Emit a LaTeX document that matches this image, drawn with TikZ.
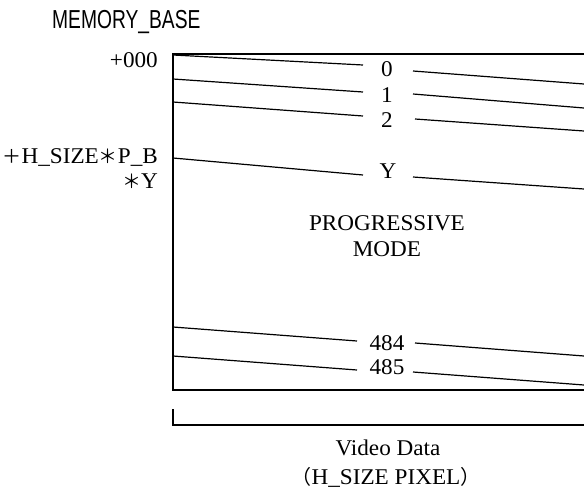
\documentclass[tikz,border=0pt]{standalone}
\usepackage{fontspec}
\setmainfont{Liberation Serif}[FakeStretch=1.03]
\newfontfamily\membase{Liberation Sans}[FakeStretch=0.74]
\newfontfamily\cjk{Noto Sans CJK JP}
\begin{document}
\begin{tikzpicture}[x=1pt,y=-1pt,
  edge/.style={line width=1.3pt},
  row/.style={line width=1.2pt},
  lbl/.style={inner sep=0pt,anchor=base,font=\fontsize{22.5}{24}\selectfont},
  lbr/.style={inner sep=0pt,anchor=base east,font=\fontsize{22.5}{24}\selectfont}]
\useasboundingbox (0,0) rectangle (584,490);
% title
\node[inner sep=0pt,anchor=base west,font=\membase\fontsize{26}{27}\selectfont] (mb) at (52,28) {MEMORY\_BASE};
% left labels
\node[lbr] (a0) at (158,67) {+000};
\node[lbr] (ay) at (158,163) {{\cjk\fontsize{19}{20}\selectfont ＋}H\_SIZE{\cjk\fontsize{19}{20}\selectfont ＊}P\_B};
\node[lbr] (ay2) at (158,188) {{\cjk\fontsize{19}{20}\selectfont ＊}Y};
% box
\coordinate (tl) at (173,54);
\coordinate (tr) at (584,54);
\coordinate (bl) at (173,390);
\coordinate (br) at (584,390);
\draw[edge] (tr) -- (tl) -- (bl) -- (br);
% row labels
\node[lbl] (r0) at (387,76) {0};
\node[lbl] (r1) at (387,102) {1};
\node[lbl] (r2) at (387,127) {2};
\node[lbl] (rY) at (388,178) {Y};
\node[lbl] (r484) at (387,350) {484};
\node[lbl] (r485) at (387,374) {485};
\node[lbl] (pm1) at (387,230) {PROGRESSIVE};
\node[lbl] (pm2) at (387,256) {MODE};
% row lines
\draw[row] (173,55) -- (363,65);  \draw[row] (413,71) -- (584,84);
\draw[row] (173,79) -- (363,92);  \draw[row] (413,94) -- (584,108);
\draw[row] (173,102) -- (363,116); \draw[row] (415,119) -- (584,131);
\draw[row] (173,158) -- (363,175); \draw[row] (413,177) -- (584,189);
\draw[row] (173,327) -- (357,341); \draw[row] (415,343) -- (584,356);
\draw[row] (173,356) -- (357,370); \draw[row] (413,372) -- (584,385);
% bracket
\coordinate (b1) at (173,409);
\coordinate (b2) at (173,425);
\coordinate (b3) at (584,425);
\draw[edge] (b1) -- (b2) -- (b3);
\node[lbl] (vd) at (388,455) {Video Data};
\node[lbl] (hs) at (386,484) {{\cjk\fontsize{20}{20}\selectfont （}H\_SIZE PIXEL{\cjk\fontsize{20}{20}\selectfont ）}};
\end{tikzpicture}
\end{document}
